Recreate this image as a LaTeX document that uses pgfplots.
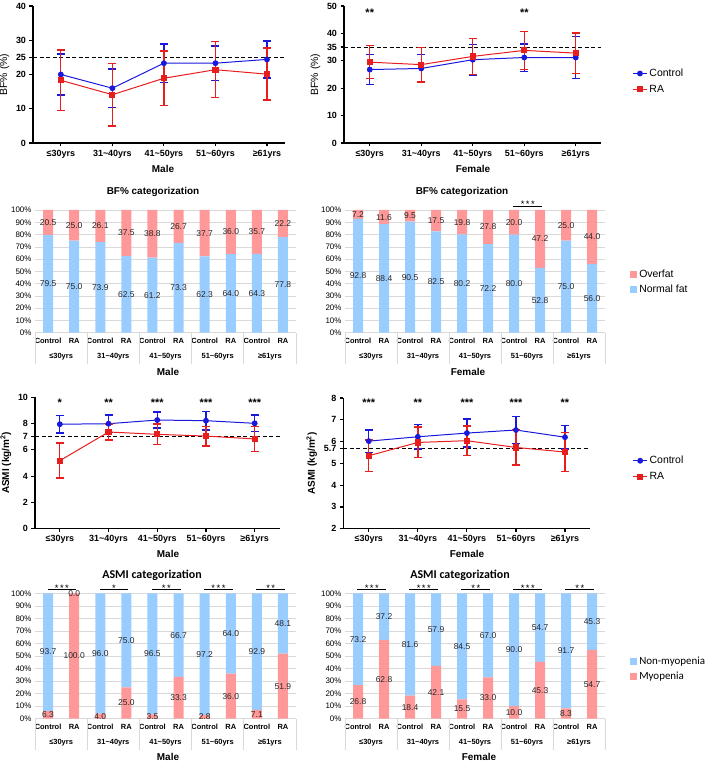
\documentclass[border=0pt]{standalone}
\usepackage{pgfplots}
\pgfplotsset{compat=1.18}
\usepackage{pgfplotstable}
\usepackage{fontspec}
\setmainfont{Liberation Sans}
\newfontfamily\calibri{Carlito}
\definecolor{cblue}{RGB}{25,25,220}
\definecolor{cred}{RGB}{230,30,30}
\definecolor{barblue}{RGB}{153,204,255}
\definecolor{barpink}{RGB}{255,153,153}
\definecolor{gridgray}{RGB}{217,217,217}
\newcommand{\fs}[1]{\fontsize{#1}{#1}\selectfont}

% ---- BF% line data ----
\pgfplotstableread{
x y e
0 20.0 6.0
1 16.0 5.6
2 23.3 5.6
3 23.3 5.0
4 24.4 5.4
}\bfMC
\pgfplotstableread{
x y e
0 18.3 8.8
1 14.1 9.1
2 18.9 8.0
3 21.4 8.2
4 20.1 7.6
}\bfMR
\pgfplotstableread{
x y e
0 26.8 5.4
1 27.2 5.2
2 30.4 5.6
3 31.2 5.0
4 31.2 7.6
}\bfFC
\pgfplotstableread{
x y e
0 29.5 6.0
1 28.6 6.3
2 31.6 6.5
3 33.8 7.0
4 32.8 7.4
}\bfFR
% ---- ASMI line data ----
\pgfplotstableread{
x y e
0 7.95 0.67
1 7.99 0.65
2 8.27 0.62
3 8.22 0.70
4 8.02 0.62
}\asMC
\pgfplotstableread{
x y e
0 5.18 1.33
1 7.36 0.60
2 7.18 0.78
3 7.05 0.75
4 6.83 0.97
}\asMR
\pgfplotstableread{
x y e
0 6.02 0.52
1 6.22 0.57
2 6.39 0.64
3 6.53 0.62
4 6.20 0.55
}\asFC
\pgfplotstableread{
x y e
0 5.35 0.72
1 5.96 0.70
2 6.04 0.67
3 5.73 0.80
4 5.52 0.90
}\asFR
% ---- BF% categorization ----
\pgfplotstableread{
x normal over
0 79.5 20.5
1 75.0 25.0
2 73.9 26.1
3 62.5 37.5
4 61.2 38.8
5 73.3 26.7
6 62.3 37.7
7 64.0 36.0
8 64.3 35.7
9 77.8 22.2
}\bcM
\pgfplotstableread{
x normal over
0 92.8 7.2
1 88.4 11.6
2 90.5 9.5
3 82.5 17.5
4 80.2 19.8
5 72.2 27.8
6 80.0 20.0
7 52.8 47.2
8 75.0 25.0
9 56.0 44.0
}\bcF
% ---- ASMI categorization ----
\pgfplotstableread{
x myo non
0 6.3 93.7
1 100.0 0.0
2 4.0 96.0
3 25.0 75.0
4 3.5 96.5
5 33.3 66.7
6 2.8 97.2
7 36.0 64.0
8 7.1 92.9
9 51.9 48.1
}\acM
\pgfplotstableread{
x myo non
0 26.8 73.2
1 62.8 37.2
2 18.4 81.6
3 42.1 57.9
4 15.5 84.5
5 33.0 67.0
6 10.0 90.0
7 45.3 54.7
8 8.3 91.7
9 54.7 45.3
}\acF

\pgfplotsset{
  /pgf/number format/assume math mode=true,
  gp/.style={
    scale only axis, anchor=south west, clip=false,
    axis lines=left, axis line style={-, line width=1.2pt},
    tick align=outside, major tick length=3.5bp,
    tick style={black, line width=1.2pt},
    xtick={0,1,2,3,4},
    xticklabels={≤30yrs,31\textasciitilde40yrs,41\textasciitilde50yrs,51\textasciitilde60yrs,≥61yrs},
    ticklabel style={font=\bfseries\fs{9}},
    legend style={draw=none, fill=none, font=\fs{10.5}, anchor=west, row sep=3bp},
    legend cell align=left,
    legend image code/.code={\draw[mark repeat=2,mark phase=2,##1] plot coordinates {(0bp,0bp) (7bp,0bp) (14bp,0bp)};},
  },
  ctl/.style={cblue, line width=1pt, mark=*, mark size=2.4bp,
    error bars/.cd, y dir=both, y explicit,
    error bar style={line width=1.3pt},
    error mark options={rotate=90, mark size=4bp, line width=1.4pt}},
  ra/.style={cred, line width=1pt, mark=square*, mark size=2.6bp,
    error bars/.cd, y dir=both, y explicit,
    error bar style={line width=1.3pt},
    error mark options={rotate=90, mark size=4bp, line width=1.4pt}},
  refl/.style={black, line width=1.1pt, dash pattern=on 4bp off 2.5bp, forget plot},
  bars/.style={
    scale only axis, anchor=south west, clip=false,
    ybar stacked, bar width=10bp,
    xmin=-0.5, xmax=9.5, ymin=0, ymax=100,
    xtick={0,...,9},
    xticklabels={Control,RA,Control,RA,Control,RA,Control,RA,Control,RA},
    xticklabel style={font=\bfseries\fs{7.5}, yshift=-2bp},
    ytick={0,10,...,100},
    yticklabel={\pgfmathprintnumber{\tick}\%},
    yticklabel style={font=\fs{8}},
    axis lines=left,
    x axis line style={-, draw=gridgray, line width=0.8pt},
    y axis line style={draw=none},
    major tick length=0pt,
    ymajorgrids, grid style={gridgray, line width=0.6pt},
    legend style={draw=none, fill=none, font=\fs{10.5}, anchor=west, row sep=2bp},
    legend cell align=left, reverse legend,
    legend image code/.code={\fill[##1] (0bp,-3.5bp) rectangle (7bp,3.5bp);},
  },
  labs/.style={scale only axis, anchor=south west, hide axis, clip=false,
    xmin=-0.5, xmax=9.5, ymin=0, ymax=100},
  lab/.style={only marks, mark=*, mark size=0pt, mark options={draw=none,fill=none},
    nodes near coords, point meta=explicit symbolic,
    every node near coord/.append style={anchor=center, font=\fs{8.5}, text=black!85, inner sep=0pt}},
}

\newcommand{\grouplabels}{%
  \pgfplotsinvokeforeach{-0.5,1.5,3.5,5.5,7.5,9.5}{\draw[gridgray, line width=0.8pt] (axis cs:##1,0) -- ([yshift=-31bp]axis cs:##1,0);}
  \node[font=\bfseries\fs{7.5}] at ([yshift=-24.3bp]axis cs:0.5,0) {≤30yrs};
  \node[font=\bfseries\fs{7.5}] at ([yshift=-24.3bp]axis cs:2.5,0) {31\textasciitilde40yrs};
  \node[font=\bfseries\fs{7.5}] at ([yshift=-24.3bp]axis cs:4.5,0) {41\textasciitilde50yrs};
  \node[font=\bfseries\fs{7.5}] at ([yshift=-24.3bp]axis cs:6.5,0) {51\textasciitilde60yrs};
  \node[font=\bfseries\fs{7.5}] at ([yshift=-24.3bp]axis cs:8.5,0) {≥61yrs};
}
\newcommand{\sig}[2]{%
  \draw[line width=0.8pt] ([yshift=4bp]axis cs:#1-0.02,100) -- ([yshift=4bp]axis cs:#1+1.08,100);
  \node[anchor=base, inner sep=0pt, font=\fs{9.5}] at ([yshift=2.2bp]axis cs:#1+0.53,100) {#2};}

\begin{document}
\begin{tikzpicture}
\path[use as bounding box] (0,0) rectangle (709bp,763bp);

% ================= Row 1: BF% line charts =================
\begin{axis}[gp, at={(33bp,620bp)}, width=252bp, height=137bp,
  xmin=-0.54, xmax=4.35, ymin=0, ymax=40, ytick={0,10,20,25,30,40},
  ylabel={BF\% (\%)}, ylabel style={font=\fs{10.5}}]
\addplot[refl] coordinates {(-0.54,25) (4.35,25)};
\addplot[ctl] table[x=x,y=y,y error=e]{\bfMC};
\addplot[ra] table[x=x,y=y,y error=e]{\bfMR};
\end{axis}

\begin{axis}[gp, at={(344bp,620bp)}, width=257bp, height=137bp,
  xmin=-0.5, xmax=4.49, ymin=0, ymax=50, ytick={0,10,20,30,35,40,50},
  ylabel={BF\% (\%)}, ylabel style={font=\fs{10.5}},
  legend style={at={(1.11,0.45)}}]
\addplot[refl] coordinates {(-0.5,35) (4.49,35)};
\addplot[ctl] table[x=x,y=y,y error=e]{\bfFC};
\addplot[ra] table[x=x,y=y,y error=e]{\bfFR};
\legend{Control,RA}
\node[font=\bfseries\fs{11}] at (axis cs:0,47.6) {**};
\node[font=\bfseries\fs{11}] at (axis cs:3,47.6) {**};
\end{axis}

\node[font=\bfseries\fs{10}] at (163bp,594bp) {Male};
\node[font=\bfseries\fs{10}] at (473bp,594bp) {Female};
\node[font=\bfseries\fs{10}] at (153bp,571bp) {BF\% categorization};
\node[font=\bfseries\fs{10}] at (462bp,571bp) {BF\% categorization};

% ================= Row 2: BF% categorization =================
\begin{axis}[bars, at={(35bp,430.3bp)}, width=261bp, height=122.7bp]
\addplot[fill=barblue, draw=none] table[x=x,y=normal]{\bcM};
\addplot[fill=barpink, draw=none] table[x=x,y=over]{\bcM};
\grouplabels
\end{axis}
\begin{axis}[labs, at={(35bp,430.3bp)}, width=261bp, height=122.7bp]
\addplot[lab] table[x=x, y expr=\thisrow{normal}/2, meta=normal]{\bcM};
\addplot[lab] table[x=x, y expr=\thisrow{normal}+\thisrow{over}/2, meta=over]{\bcM};
\end{axis}

\begin{axis}[bars, at={(345bp,430.3bp)}, width=260bp, height=122.7bp,
  legend style={at={(1.085,0.41)}}]
\addplot[fill=barblue, draw=none] table[x=x,y=normal]{\bcF};
\addplot[fill=barpink, draw=none] table[x=x,y=over]{\bcF};
\legend{Normal fat,Overfat}
\grouplabels
\sig{6}{*\hspace{1.5bp}*\hspace{1.5bp}*}
\end{axis}
\begin{axis}[labs, at={(345bp,430.3bp)}, width=260bp, height=122.7bp]
\addplot[lab] table[x=x, y expr=\thisrow{normal}/2, meta=normal]{\bcF};
\addplot[lab] table[x=x, y expr=\thisrow{normal}+\thisrow{over}/2, meta=over]{\bcF};
\end{axis}

\node[font=\bfseries\fs{10}] at (168bp,391bp) {Male};
\node[font=\bfseries\fs{10}] at (468bp,391bp) {Female};

% ================= Row 3: ASMI line charts =================
\begin{axis}[gp, at={(35bp,234.3bp)}, width=245bp, height=131.4bp,
  xmin=-0.51, xmax=4.52, ymin=0, ymax=10, ytick={0,2,4,6,7,8,10},
  ylabel={ASMI (kg/m\textsuperscript{2})}, ylabel style={font=\bfseries\fs{10}}]
\addplot[refl] coordinates {(-0.51,7) (4.52,7)};
\addplot[ctl] table[x=x,y=y,y error=e]{\asMC};
\addplot[ra] table[x=x,y=y,y error=e]{\asMR};
\node[font=\bfseries\fs{11}] at (axis cs:0,9.6) {*};
\node[font=\bfseries\fs{11}] at (axis cs:1,9.6) {**};
\node[font=\bfseries\fs{11}] at (axis cs:2,9.6) {***};
\node[font=\bfseries\fs{11}] at (axis cs:3,9.6) {***};
\node[font=\bfseries\fs{11}] at (axis cs:4,9.6) {***};
\end{axis}

\begin{axis}[gp, at={(343.3bp,234.3bp)}, width=246.7bp, height=130.7bp,
  xmin=-0.52, xmax=4.51, ymin=2, ymax=8, ytick={2,3,4,5,5.7,6,7,8},
  ylabel={ASMI (kg/m\textsuperscript{2})}, ylabel style={font=\bfseries\fs{10}},
  legend style={at={(1.16,0.46)}}]
\addplot[refl] coordinates {(-0.52,5.7) (4.51,5.7)};
\addplot[ctl] table[x=x,y=y,y error=e]{\asFC};
\addplot[ra] table[x=x,y=y,y error=e]{\asFR};
\legend{Control,RA}
\node[font=\bfseries\fs{11}] at (axis cs:0,7.78) {***};
\node[font=\bfseries\fs{11}] at (axis cs:1,7.78) {**};
\node[font=\bfseries\fs{11}] at (axis cs:2,7.78) {***};
\node[font=\bfseries\fs{11}] at (axis cs:3,7.78) {***};
\node[font=\bfseries\fs{11}] at (axis cs:4,7.78) {**};
\end{axis}

\node[font=\bfseries\fs{10}] at (168bp,209bp) {Male};
\node[font=\bfseries\fs{10}] at (467bp,209bp) {Female};
\node[font=\calibri\bfseries\fs{12}] at (152bp,188bp) {ASMI categorization};
\node[font=\calibri\bfseries\fs{12}] at (460bp,188bp) {ASMI categorization};

% ================= Row 4: ASMI categorization =================
\begin{axis}[bars, at={(35bp,44.3bp)}, width=261bp, height=125.4bp]
\addplot[fill=barpink, draw=none] table[x=x,y=myo]{\acM};
\addplot[fill=barblue, draw=none] table[x=x,y=non]{\acM};
\grouplabels
\sig{0}{*\hspace{1.5bp}*\hspace{1.5bp}*}
\sig{2}{*}
\sig{4}{*\hspace{1.5bp}*}
\sig{6}{*\hspace{1.5bp}*\hspace{1.5bp}*}
\sig{8}{*\hspace{1.5bp}*}
\end{axis}
\begin{axis}[labs, at={(35bp,44.3bp)}, width=261bp, height=125.4bp]
\addplot[lab] table[x=x, y expr=\thisrow{myo}/2, meta=myo]{\acM};
\addplot[lab] table[x=x, y expr=\thisrow{myo}+\thisrow{non}/2, meta=non]{\acM};
\end{axis}

\begin{axis}[bars, at={(345bp,44.3bp)}, width=260bp, height=125.4bp,
  legend style={at={(1.085,0.40)}, font=\calibri\fs{11}}]
\addplot[fill=barpink, draw=none] table[x=x,y=myo]{\acF};
\addplot[fill=barblue, draw=none] table[x=x,y=non]{\acF};
\legend{Myopenia,Non-myopenia}
\grouplabels
\sig{0}{*\hspace{1.5bp}*\hspace{1.5bp}*}
\sig{2}{*\hspace{1.5bp}*\hspace{1.5bp}*}
\sig{4}{*\hspace{1.5bp}*}
\sig{6}{*\hspace{1.5bp}*\hspace{1.5bp}*}
\sig{8}{*\hspace{1.5bp}*}
\end{axis}
\begin{axis}[labs, at={(345bp,44.3bp)}, width=260bp, height=125.4bp]
\addplot[lab] table[x=x, y expr=\thisrow{myo}/2, meta=myo]{\acF};
\addplot[lab] table[x=x, y expr=\thisrow{myo}+\thisrow{non}/2, meta=non]{\acF};
\end{axis}

\node[font=\bfseries\fs{10}] at (168bp,6.3bp) {Male};
\node[font=\bfseries\fs{10}] at (479bp,6.3bp) {Female};
\end{tikzpicture}
\end{document}
